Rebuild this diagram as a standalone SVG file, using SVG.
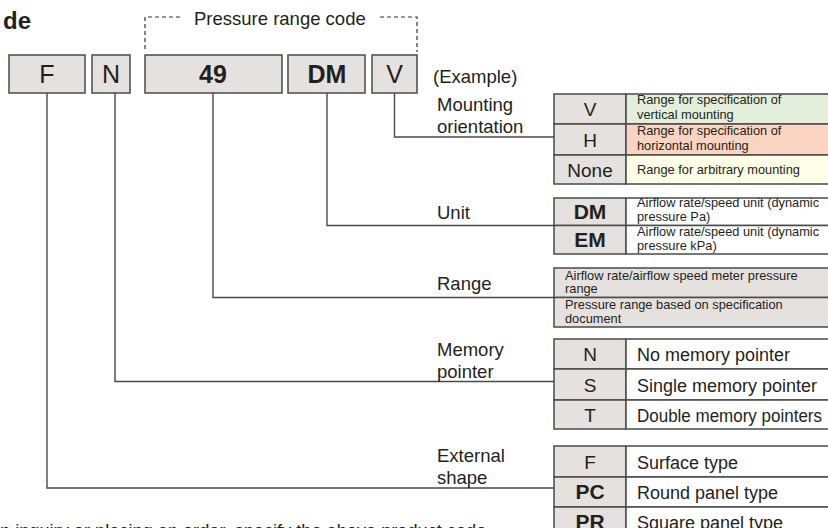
<svg xmlns="http://www.w3.org/2000/svg" width="828" height="528" viewBox="0 0 828 528">
<style>
text{font-family:"Liberation Sans",Arial,sans-serif;fill:#231f20}
.box{fill:#e5e1de;stroke:#4a4a4a;stroke-width:1.5}
.cell{stroke:#4a4a4a;stroke-width:1.5}
.g{fill:#e5e1de}
.w{fill:#ffffff}
.code{font-size:25px;text-anchor:middle}
.b{font-weight:bold}
.lbl{font-size:18.5px}
.cc{font-size:19px;text-anchor:middle}
.cb{font-size:21px;font-weight:bold;text-anchor:middle}
.sm{font-size:12.8px}
.d{font-size:18px}
.conn{fill:none;stroke:#4a4a4a;stroke-width:1.4}
.dash{fill:none;stroke:#333;stroke-width:1.2;stroke-dasharray:4 3}
</style>
<text x="31" y="29" font-size="24" font-weight="bold" text-anchor="end">de</text>

<g id="pressure-range-bracket">
<path class="dash" d="M145,49 V17 H183 M380,17 H417 V52"/>
<text class="lbl" x="194" y="25">Pressure range code</text>
</g>

<g id="code-F"><rect class="box" x="9" y="55" width="76" height="38"/><text class="code" x="47" y="83">F</text></g>
<g id="code-N"><rect class="box" x="92" y="55" width="38" height="38"/><text class="code" x="111" y="83">N</text></g>
<g id="code-49"><rect class="box" x="145" y="55" width="137" height="38"/><text class="code b" x="213" y="83">49</text></g>
<g id="code-DM"><rect class="box" x="288" y="55" width="77" height="38"/><text class="code b" x="327" y="83">DM</text></g>
<g id="code-V"><rect class="box" x="372" y="55" width="45" height="38"/><text class="code" x="394.5" y="83">V</text></g>
<text class="lbl" x="433" y="83">(Example)</text>

<g id="connectors">
<path class="conn" d="M394.5,93 V137 H554"/>
<path class="conn" d="M327,93 V225.5 H554"/>
<path class="conn" d="M213,93 V297.5 H554"/>
<path class="conn" d="M115,93 V381.5 H554"/>
<path class="conn" d="M47,93 V488 H554"/>
</g>

<g id="mounting">
<text class="lbl" x="437" y="111">Mounting</text>
<text class="lbl" x="437" y="133">orientation</text>
<rect class="cell g" x="554" y="94" width="72" height="30"/>
<rect class="cell" fill="#e3efda" x="626" y="94" width="210" height="30"/>
<rect class="cell g" x="554" y="124" width="72" height="31"/>
<rect class="cell" fill="#fad4c0" x="626" y="124" width="210" height="31"/>
<rect class="cell g" x="554" y="155" width="72" height="29"/>
<rect class="cell" fill="#fefee6" x="626" y="155" width="210" height="29"/>
<text class="cc" x="590" y="116" font-size="20">V</text>
<text class="cc" x="590" y="146.5" font-size="20">H</text>
<text class="cc" x="590" y="176.5">None</text>
<text class="sm" x="637" y="104">Range for specification of</text>
<text class="sm" x="637" y="118.5">vertical mounting</text>
<text class="sm" x="637" y="135">Range for specification of</text>
<text class="sm" x="637" y="149.5">horizontal mounting</text>
<text class="sm" x="637" y="174">Range for arbitrary mounting</text>
</g>

<g id="unit">
<text class="lbl" x="437" y="219">Unit</text>
<rect class="cell g" x="554" y="198" width="72" height="27.5"/>
<rect class="cell w" x="626" y="198" width="210" height="27.5"/>
<rect class="cell g" x="554" y="225.5" width="72" height="28.5"/>
<rect class="cell w" x="626" y="225.5" width="210" height="28.5"/>
<text class="cb" x="590" y="219">DM</text>
<text class="cb" x="590" y="247">EM</text>
<text class="sm" x="637" y="207">Airflow rate/speed unit (dynamic</text>
<text class="sm" x="637" y="221">pressure Pa)</text>
<text class="sm" x="637" y="236">Airflow rate/speed unit (dynamic</text>
<text class="sm" x="637" y="250">pressure kPa)</text>
</g>

<g id="range">
<text class="lbl" x="437" y="290">Range</text>
<rect class="cell g" x="554" y="268" width="282" height="29.5"/>
<rect class="cell g" x="554" y="297.5" width="282" height="29.5"/>
<text class="sm" x="565" y="279.5">Airflow rate/airflow speed meter pressure</text>
<text class="sm" x="565" y="293">range</text>
<text class="sm" x="565" y="309">Pressure range based on specification</text>
<text class="sm" x="565" y="322.5">document</text>
</g>

<g id="memory">
<text class="lbl" x="437" y="356">Memory</text>
<text class="lbl" x="437" y="378">pointer</text>
<rect class="cell g" x="554" y="339" width="72" height="30"/>
<rect class="cell w" x="626" y="339" width="210" height="30"/>
<rect class="cell g" x="554" y="369" width="72" height="31"/>
<rect class="cell w" x="626" y="369" width="210" height="31"/>
<rect class="cell g" x="554" y="400" width="72" height="29"/>
<rect class="cell w" x="626" y="400" width="210" height="29"/>
<text class="cc" x="590" y="361">N</text>
<text class="cc" x="590" y="391.5">S</text>
<text class="cc" x="590" y="421.5">T</text>
<text class="d" x="637" y="361">No memory pointer</text>
<text class="d" x="637" y="391.5">Single memory pointer</text>
<text class="d" x="637" y="421.5" textLength="185" lengthAdjust="spacingAndGlyphs">Double memory pointers</text>
</g>

<g id="external">
<text class="lbl" x="437" y="461.5">External</text>
<text class="lbl" x="437" y="484">shape</text>
<rect class="cell g" x="554" y="446" width="72" height="31"/>
<rect class="cell w" x="626" y="446" width="210" height="31"/>
<rect class="cell g" x="554" y="477" width="72" height="30"/>
<rect class="cell w" x="626" y="477" width="210" height="30"/>
<rect class="cell g" x="554" y="507" width="72" height="30"/>
<rect class="cell w" x="626" y="507" width="210" height="30"/>
<text class="cc" x="590" y="468.5">F</text>
<text class="cb" x="590" y="499">PC</text>
<text class="cb" x="590" y="529">PR</text>
<text class="d" x="637" y="468.5">Surface type</text>
<text class="d" x="637" y="499">Round panel type</text>
<text class="d" x="637" y="529">Square panel type</text>
</g>

<text x="0" y="537" font-size="18.2">n inquiry or placing an order, specify the above product code.</text>
</svg>
